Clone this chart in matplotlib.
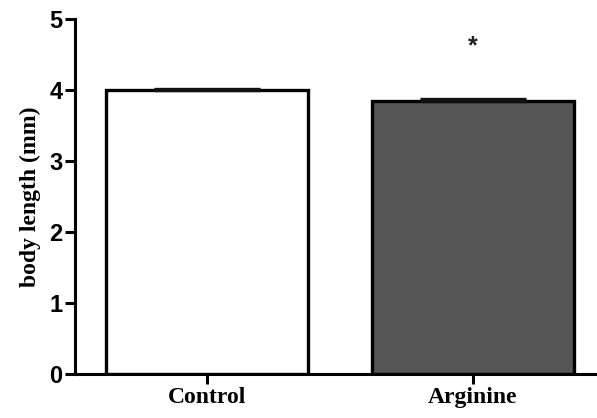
import numpy as np
import matplotlib
matplotlib.use("Agg")
import matplotlib.pyplot as plt

# datos
grupos = ['Control', 'Arginine']
medias = [4.0, 3.85]
errores = [0.02, 0.03]
colores = ['white', '#555555']

fig = plt.figure(figsize=(5.97, 4.18), dpi=100)
ax = fig.add_axes([0.1256, 0.105, 0.8744, 0.8495])

x = np.arange(len(grupos))
ax.bar(x, medias, width=0.76, color=colores, edgecolor='black', linewidth=2.4, zorder=2)
ax.errorbar(x, medias, yerr=[[0, 0], errores], fmt='none', ecolor='#111111',
            elinewidth=2.4, capsize=38, capthick=2.4, zorder=3)

# asterisco sobre Arginine
ax.text(1, 4.62, '*', ha='center', va='center', fontsize=18, fontweight='bold',
        family='Liberation Sans', color='#222222')

ax.set_xlim(-0.496, 1.466)
ax.set_ylim(0, 5)
ax.set_yticks([0, 1, 2, 3, 4, 5])
ax.set_xticks(x)
ax.set_xticklabels(grupos, fontsize=17, fontweight='bold', family='Liberation Serif')
for t in ax.get_yticklabels():
    t.set_fontsize(17)
    t.set_fontweight('bold')
    t.set_family('Liberation Sans')

ax.set_ylabel('body length (mm)', fontsize=17, fontweight='bold', family='Liberation Serif', labelpad=6)

ax.spines['top'].set_visible(False)
ax.spines['right'].set_visible(False)
ax.spines['left'].set_linewidth(2.2)
ax.spines['bottom'].set_linewidth(2.2)
ax.tick_params(axis='both', direction='out', length=7, width=2.2, pad=2)

plt.savefig('out.png', dpi=100)
